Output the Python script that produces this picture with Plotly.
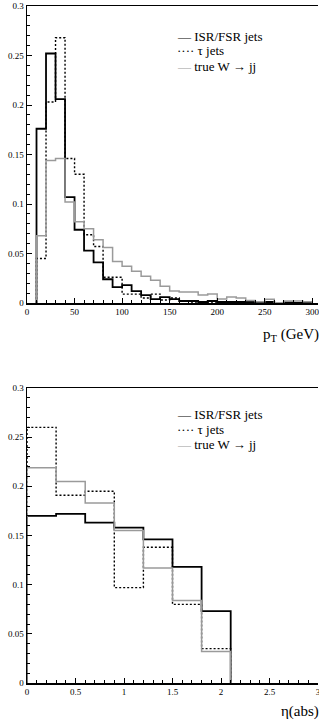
import plotly.graph_objects as go

# ---------------- data ----------------
pt_edges = list(range(10, 310, 10))          # 10 ... 300 GeV, 10 GeV bins
isr_pt = [0.176, 0.252, 0.206, 0.107, 0.074, 0.053, 0.041, 0.024, 0.016, 0.018,
          0.012, 0.008, 0.004, 0.006, 0.004, 0.002, 0.002, 0.001, 0.002, 0.001,
          0.001, 0.001, 0.001, 0.0005, 0.001, 0.0, 0.0005, 0.0, 0.0]
tau_pt = [0.045, 0.203, 0.268, 0.146, 0.130, 0.069, 0.057, 0.026, 0.026, 0.009,
          0.009, 0.005, 0.009, 0.003, 0.005, 0.002, 0.001, 0.001, 0.001, 0.0,
          0.0, 0.0, 0.0, 0.0, 0.0, 0.0, 0.0, 0.0, 0.0]
w_pt = [0.068, 0.144, 0.146, 0.102, 0.082, 0.075, 0.064, 0.056, 0.042, 0.037,
        0.032, 0.027, 0.023, 0.017, 0.012, 0.011, 0.011, 0.008, 0.009, 0.004,
        0.006, 0.005, 0.0024, 0.0013, 0.0037, 0.0003, 0.002, 0.002, 0.0013]

eta_edges = [0.0, 0.3, 0.6, 0.9, 1.2, 1.5, 1.8, 2.1]
isr_eta = [0.170, 0.172, 0.163, 0.158, 0.146, 0.118, 0.073]
tau_eta = [0.260, 0.191, 0.195, 0.097, 0.138, 0.080, 0.035]
w_eta = [0.219, 0.205, 0.183, 0.155, 0.117, 0.084, 0.032]

series_names = ["ISR/FSR jets", "τ jets", "true W → jj"]
pt_ticks = [0, 50, 100, 150, 200, 250, 300]
eta_ticks = [0, 0.5, 1, 1.5, 2, 2.5, 3]
eta_ticktext = ["0", "0.5", "1", "1.5", "2", "2.5", "3"]
y_ticks = [0, 0.05, 0.1, 0.15, 0.2, 0.25, 0.3]
y_ticktext = ["0", "0.05", "0.1", "0.15", "0.2", "0.25", "0.3"]


def step_xy(edges, vals):
    xs = [edges[0]] + list(edges) + [edges[-1]]
    ys = [0] + list(vals) + [vals[-1], 0]
    return xs, ys


FONT = "Liberation Serif"
W, H = 319, 723
L, R = 27, 1

styles = [
    dict(color="black", width=1.8),
    dict(color="black", width=1.4, dash="2px,2px"),
    dict(color="#9a9a9a", width=1.5),
]

fig = go.Figure()

for vals, st in zip([isr_pt, tau_pt, w_pt], styles):
    xs, ys = step_xy(pt_edges, vals)
    fig.add_trace(go.Scatter(x=xs, y=ys, mode="lines", line=dict(shape="hv", **st),
                             xaxis="x", yaxis="y", showlegend=False, hoverinfo="skip"))
for vals, st in zip([isr_eta, tau_eta, w_eta], styles):
    xs, ys = step_xy(eta_edges, vals)
    fig.add_trace(go.Scatter(x=xs, y=ys, mode="lines", line=dict(shape="hv", **st),
                             xaxis="x2", yaxis="y2", showlegend=False, hoverinfo="skip"))


def py(pix):
    return (H - pix) / H


def px(pix):
    return (pix - L) / (W - L - R)


common_x = dict(showline=True, linecolor="black", linewidth=1.5, mirror=True,
                ticks="inside", ticklen=5, tickwidth=1, tickcolor="black",
                showgrid=False, zeroline=False, automargin=False,
                ticklabeloverflow="allow",
                tickfont=dict(family=FONT, size=9, color="black"))
common_y = dict(showline=True, linecolor="black", linewidth=1.5, mirror=False,
                ticks="inside", ticklen=5, tickwidth=1, tickcolor="black",
                showgrid=False, zeroline=False, automargin=False,
                ticklabeloverflow="allow",
                range=[0, 0.3], tickvals=y_ticks, ticktext=y_ticktext,
                minor=dict(ticks="inside", ticklen=3, dtick=0.01, tickcolor="black", showgrid=False),
                tickfont=dict(family=FONT, size=9, color="black"))

fig.update_layout(
    width=W, height=H,
    margin=dict(l=L, r=R, t=0, b=0),
    paper_bgcolor="white", plot_bgcolor="white",
    showlegend=False,
    xaxis=dict(domain=[0, 1], anchor="y", range=[0, 306], tickvals=pt_ticks,
               minor=dict(ticks="inside", ticklen=3, dtick=10, tickcolor="black", showgrid=False),
               **common_x),
    yaxis=dict(domain=[py(303), py(6)], anchor="x", **common_y),
    xaxis2=dict(domain=[0, 1], anchor="y2", range=[0, 3], tickvals=eta_ticks, ticktext=eta_ticktext,
                minor=dict(ticks="inside", ticklen=3, dtick=0.1, tickcolor="black", showgrid=False),
                **common_x),
    yaxis2=dict(domain=[py(683), py(388)], anchor="x2", **common_y),
)

# axis titles
fig.add_annotation(text="p<sub>T</sub> (GeV)", xref="paper", yref="paper", x=1.01, y=py(335),
                   xanchor="right", yanchor="middle", showarrow=False,
                   font=dict(family=FONT, size=15, color="black"))
fig.add_annotation(text="η(abs)", xref="paper", yref="paper", x=1.01, y=py(711),
                   xanchor="right", yanchor="middle", showarrow=False,
                   font=dict(family=FONT, size=15, color="black"))

# legends (text keys)
samples = ["—", "····", "—"]
sample_colors = ["black", "black", "#9a9a9a"]
for rows in ([36, 51, 66], [414, 429, 444]):
    for name, smp, col, yy in zip(series_names, samples, sample_colors, rows):
        fig.add_annotation(
            text=f"<span style='color:{col}'>{smp}</span> {name}",
            xref="paper", yref="paper", x=px(175), y=py(yy),
            xanchor="left", yanchor="middle", showarrow=False,
            font=dict(family=FONT, size=13, color="black"))

fig.write_html("out.html",
               config={"displayModeBar": False, "staticPlot": True},
               post_script="document.body.style.margin='0';document.body.style.overflow='hidden';")
